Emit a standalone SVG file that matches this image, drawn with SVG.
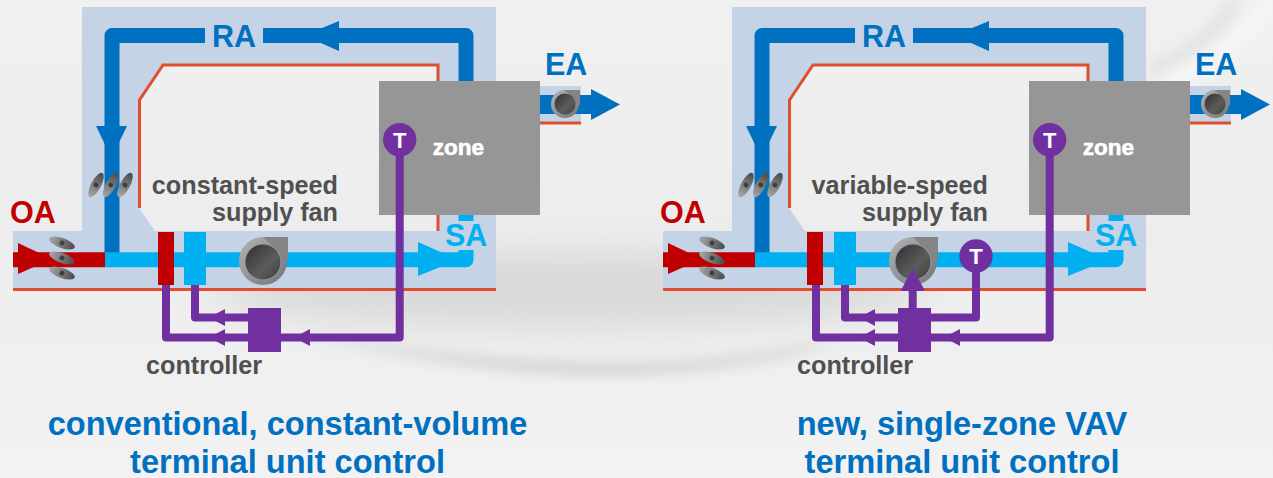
<svg xmlns="http://www.w3.org/2000/svg" width="1273" height="478" viewBox="0 0 1273 478">
<style>
text{font-family:"Liberation Sans",Arial,sans-serif;font-weight:700}
.duct{fill:#c5d3e6;fill-rule:evenodd}
.edge{fill:none;stroke:#e04e2f;stroke-width:3}
.ra{fill:none;stroke:#0070c0;stroke-width:15;stroke-linejoin:round}
.sa{fill:none;stroke:#00b0f0;stroke-width:15;stroke-linejoin:round}
.ctl{fill:none;stroke:#7030a0;stroke-width:8;stroke-linejoin:round}
.pf{fill:#7030a0}
.bf{fill:#0070c0}
.cf{fill:#00b0f0}
.rf{fill:#c00000}
.lab{fill:#505050;font-size:25.2px}
.title{fill:#0070c0;font-size:32.6px;text-anchor:middle}
.big{font-size:30.5px}
.tt{fill:#fff;font-size:22px;text-anchor:middle}
.zt{fill:#fff;stroke:#fff;stroke-width:.6;font-size:22.5px;text-anchor:middle}
</style>
<defs>
<linearGradient id="bg" x1="0" y1="0" x2="0" y2="1"><stop offset="0" stop-color="#f0f0f0"/><stop offset=".5" stop-color="#ededed"/><stop offset="1" stop-color="#f2f2f2"/></linearGradient>
<linearGradient id="dark" x1="0" y1="0" x2="1" y2="1"><stop offset="0" stop-color="#2f2f2f"/><stop offset=".6" stop-color="#5c5c5c"/><stop offset="1" stop-color="#3c3c3c"/></linearGradient>
<linearGradient id="ring" x1="0" y1="0" x2="1" y2="1"><stop offset="0" stop-color="#b4b4b4"/><stop offset="1" stop-color="#747474"/></linearGradient>
<linearGradient id="blade" x1="0" y1="0" x2="1" y2="0"><stop offset="0" stop-color="#a8a8a8"/><stop offset="1" stop-color="#4a4a4a"/></linearGradient>
<filter id="b1" x="-30%" y="-150%" width="160%" height="400%"><feGaussianBlur stdDeviation="18"/></filter>
<filter id="b2" x="-30%" y="-200%" width="160%" height="500%"><feGaussianBlur stdDeviation="7"/></filter>
<filter id="b3" x="-30%" y="-30%" width="160%" height="160%"><feGaussianBlur stdDeviation="7"/></filter>
<g id="bigfan"><circle cx="263" cy="261" r="24" fill="url(#ring)"/><path d="M263 237H288V260H281L272 246Z" fill="#858585"/><circle cx="263" cy="262" r="18" fill="url(#dark)" stroke="#8c9bb0" stroke-width="1"/></g>
<g id="smallfan"><circle cx="565" cy="104" r="14" fill="url(#ring)"/><path d="M565 90H580V105H575L570 95Z" fill="#858585"/><circle cx="565" cy="104" r="10.500" fill="url(#dark)"/></g>
<g id="blade1"><ellipse rx="13.500" ry="5" fill="url(#blade)"/><circle r="2.400" fill="#3d3d3d"/></g>
</defs>
<g id="background">
<rect width="1273" height="478" fill="url(#bg)"/>
<ellipse cx="570" cy="290" rx="360" ry="38" fill="#d2d2d2" opacity=".75" filter="url(#b1)"/>
<path d="M300 330C400 352 520 366 640 364C720 362 780 352 840 340C780 362 700 372 620 374C500 374 390 356 300 330Z" fill="#b8b8b8" opacity=".65" filter="url(#b2)"/>
<path d="M1150 70C1190 55 1220 30 1235 0" fill="none" stroke="#dcdcdc" stroke-width="9" filter="url(#b3)"/>
<path d="M1165 85C1215 65 1250 35 1273 0" fill="none" stroke="#f8f8f8" stroke-width="14" filter="url(#b3)"/>
</g>

<g id="ducts-left">
<path class="duct" d="M13 231H82V7H496V290H13ZM139 100L163 65H438V231H155L139 208Z"/>
<rect class="duct" x="540" y="86" width="41" height="36"/>
<path class="edge" d="M438 81V65H163L139.500 100V208"/>
<path class="edge" d="M438 215V231M13 289.500H496M540 123H581"/>
</g>
<g id="ducts-right" transform="translate(650 0)">
<path class="duct" d="M13 231H82V7H496V290H13ZM139 100L163 65H438V231H155L139 208Z"/>
<rect class="duct" x="540" y="86" width="41" height="36"/>
<path class="edge" d="M438 81V65H163L139.500 100V208"/>
<path class="edge" d="M438 215V231M13 289.500H496M540 123H581"/>
</g>

<g id="connectors-left">
<path class="ra" d="M205 35.500H112V255"/>
<path class="ra" d="M263 35.500H466V90"/>
<path class="bf" d="M339 21V51L304 35.500ZM96 126H127L111.500 158Z"/>
<path class="sa" d="M105 259.700H466V250"/>
<path class="sa" d="M466 210V221"/>
<path class="cf" d="M418 242L458 259.700L418 276Z"/>
<path d="M13 259.700H105" fill="none" stroke="#c00000" stroke-width="15"/>
<path class="rf" d="M18 243L52 259L18 274Z"/>
<path d="M540 104.500H592" fill="none" stroke="#0070c0" stroke-width="19"/>
<path class="bf" d="M591 89L620 104.500L591 120Z"/>
<path class="ctl" d="M166 285V337.500H250"/>
<path class="ctl" d="M195 285V317.500H250"/>
<path class="ctl" d="M279 337.500H399.700V140"/>
<path class="pf" d="M209 317.500L225 309V326ZM209 337.500L225 329V346ZM294 337.500L310 329V346Z"/>
</g>
<g id="connectors-right" transform="translate(650 0)">
<path class="ra" d="M205 35.500H112V255"/>
<path class="ra" d="M263 35.500H466V90"/>
<path class="bf" d="M339 21V51L304 35.500ZM96 126H127L111.500 158Z"/>
<path class="sa" d="M105 259.700H466V250"/>
<path class="sa" d="M466 210V221"/>
<path class="cf" d="M418 242L458 259.700L418 276Z"/>
<path d="M13 259.700H105" fill="none" stroke="#c00000" stroke-width="15"/>
<path class="rf" d="M18 243L52 259L18 274Z"/>
<path d="M540 104.500H592" fill="none" stroke="#0070c0" stroke-width="19"/>
<path class="bf" d="M591 89L620 104.500L591 120Z"/>
<path class="ctl" d="M166 285V337.500H250"/>
<path class="ctl" d="M195 285V317.500H250"/>
<path class="ctl" d="M279 337.500H399.700V140"/>
<path class="pf" d="M209 317.500L225 309V326ZM209 337.500L225 329V346ZM294 337.500L310 329V346Z"/>
</g>

<g id="zone-left"><rect x="379" y="81" width="161" height="134" fill="#969696"/><text class="zt" x="458.500" y="155">zone</text></g>
<g id="zone-right"><rect x="1029" y="81" width="161" height="134" fill="#969696"/><text class="zt" x="1108.500" y="155">zone</text></g>
<g id="ctl-line-over-zone">
<path class="ctl" d="M399.700 215V140"/><path class="ctl" d="M1049.700 215V140"/>
</g>

<g id="oa-damper-left"><use href="#blade1" transform="translate(62 243) rotate(20)"/><use href="#blade1" transform="translate(62 258) rotate(20)"/><use href="#blade1" transform="translate(62 273) rotate(20)"/></g>
<g id="ra-damper-left"><use href="#blade1" transform="translate(96 185) rotate(-62)"/><use href="#blade1" transform="translate(110.700 185) rotate(-62)"/><use href="#blade1" transform="translate(125 185) rotate(-62)"/></g>
<g id="oa-damper-right"><use href="#blade1" transform="translate(712 243) rotate(20)"/><use href="#blade1" transform="translate(712 258) rotate(20)"/><use href="#blade1" transform="translate(712 273) rotate(20)"/></g>
<g id="ra-damper-right"><use href="#blade1" transform="translate(746 185) rotate(-62)"/><use href="#blade1" transform="translate(760.700 185) rotate(-62)"/><use href="#blade1" transform="translate(775 185) rotate(-62)"/></g>

<g id="coil-left"><rect x="158" y="232" width="16" height="53" class="rf"/><rect x="184" y="232" width="22" height="53" class="cf"/></g>
<g id="coil-right"><rect x="807" y="232" width="16" height="53" class="rf"/><rect x="834" y="232" width="22" height="53" class="cf"/></g>
<g id="fan-left"><use href="#bigfan"/></g>
<g id="fan-right"><use href="#bigfan" transform="translate(650 0)"/></g>
<g id="exhaust-fan-left"><use href="#smallfan"/></g>
<g id="exhaust-fan-right"><use href="#smallfan" transform="translate(650 0)"/></g>

<g id="connectors-right-extra">
<path class="ctl" d="M912.700 310V285"/>
<path class="pf" d="M900.700 291L912.700 268L925 291Z"/>
<path class="ctl" d="M929 317.500H976V258"/>
</g>
<g id="controller-left"><rect x="248" y="308" width="33" height="44" class="pf"/><text class="lab" x="146" y="374">controller</text></g>
<g id="controller-right"><rect x="898" y="308" width="33" height="44" class="pf"/><text class="lab" x="797" y="374">controller</text></g>
<g id="t-left"><circle cx="399.700" cy="139.700" r="16.700" class="pf"/><text class="tt" x="399.700" y="147.500">T</text></g>
<g id="t-right"><circle cx="1049.700" cy="139.700" r="16.700" class="pf"/><text class="tt" x="1049.700" y="147.500">T</text></g>
<g id="t-supply"><circle cx="976" cy="256" r="16.700" class="pf"/><text class="tt" x="976" y="264">T</text></g>

<g id="labels">
<text class="big" x="212" y="47" fill="#0070c0">RA</text>
<text class="big" x="545" y="75" fill="#0070c0">EA</text>
<text class="big" x="445" y="246" fill="#00b0f0">SA</text>
<text class="big" x="10" y="223" fill="#c00000">OA</text>
<text class="lab" x="338" y="194" text-anchor="end">constant-speed</text>
<text class="lab" x="338" y="221" text-anchor="end">supply fan</text>
<text class="big" x="862" y="47" fill="#0070c0">RA</text>
<text class="big" x="1195" y="75" fill="#0070c0">EA</text>
<text class="big" x="1095" y="246" fill="#00b0f0">SA</text>
<text class="big" x="660" y="223" fill="#c00000">OA</text>
<text class="lab" x="988" y="194" text-anchor="end">variable-speed</text>
<text class="lab" x="988" y="221" text-anchor="end">supply fan</text>
<text class="title" x="287.500" y="435">conventional, constant-volume</text>
<text class="title" x="287.500" y="473">terminal unit control</text>
<text class="title" x="962" y="435">new, single-zone VAV</text>
<text class="title" x="962" y="473">terminal unit control</text>
</g>
</svg>
